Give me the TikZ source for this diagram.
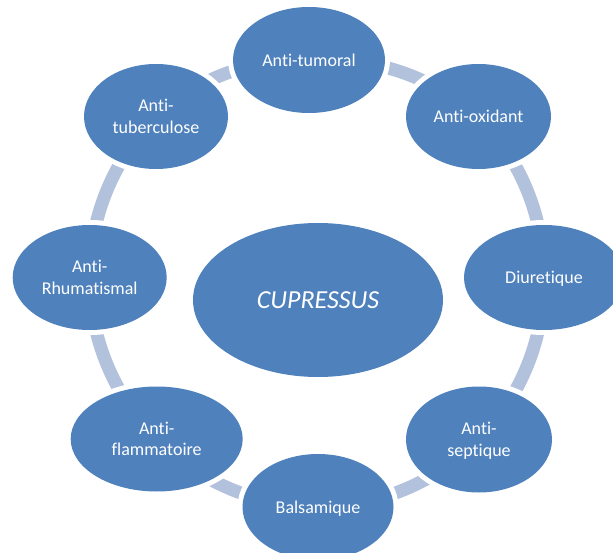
\documentclass[tikz,border=0pt]{standalone}
\usepackage{fontspec}
\setmainfont{Carlito}[Ligatures=CommonOff]
\usetikzlibrary{shapes.geometric}
\pgfdeclarelayer{bg}
\pgfsetlayers{bg,main}
\definecolor{nodeblue}{HTML}{4F81BD}
\definecolor{arcblue}{HTML}{B2C1DC}
\begin{document}
\begin{tikzpicture}[x=1pt,y=-1pt,
  bubble/.style={ellipse, fill=nodeblue, inner sep=0pt, text=white, align=center,
    font=\fontsize{18}{21.5}\selectfont, text depth=0pt,
    preaction={draw=white, line width=10pt}},
  link/.style={draw=arcblue, line width=13pt, bend left=22.5, looseness=0.885}]
\useasboundingbox (0,0) rectangle (613,553);
\node[bubble, minimum width=152pt, minimum height=106pt] (tum) at (309,60) {Anti-tumoral};
\node[bubble, minimum width=145pt, minimum height=105pt] (oxi) at (478.5,116.5) {Anti-oxidant};
\node[bubble, minimum width=160pt, minimum height=105pt] (diu) at (544,277.5) {Diuretique};
\node[bubble, minimum width=146pt, minimum height=106pt] (sep) at (479,439.5) {Anti-\\septique};
\node[bubble, minimum width=151pt, minimum height=106pt] (bal) at (318,507) {Balsamique};
\node[bubble, minimum width=172pt, minimum height=105pt] (fla) at (156.7,439) {Anti-\\flammatoire};
\node[bubble, minimum width=154pt, minimum height=105pt] (rhu) at (89.7,277.5) {Anti-\\Rhumatismal};
\node[bubble, minimum width=144pt, minimum height=105pt] (tub) at (156,116.5) {Anti-\\tuberculose};
\node[bubble, minimum width=250pt, minimum height=154pt, font=\fontsize{26}{30}\selectfont\itshape] (cup) at (318,300) {CUPRESSUS};
\begin{pgfonlayer}{bg}
\draw[link] (tub.center) to (tum.center);
\draw[link] (tum.center) to (oxi.center);
\draw[link] (oxi.center) to (diu.center);
\draw[link] (diu.center) to (sep.center);
\draw[link] (sep.center) to (bal.center);
\draw[link] (bal.center) to (fla.center);
\draw[link] (fla.center) to (rhu.center);
\draw[link] (rhu.center) to (tub.center);
\end{pgfonlayer}
\end{tikzpicture}
\end{document}
